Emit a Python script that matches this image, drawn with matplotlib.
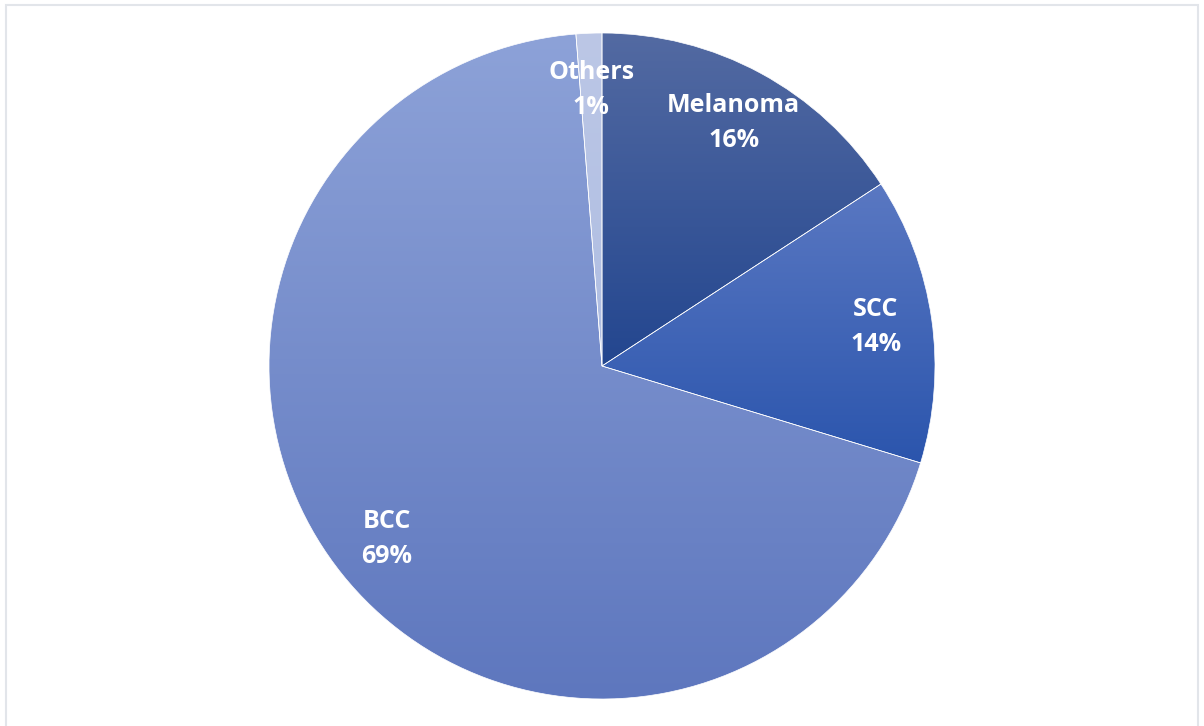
import numpy as np
import matplotlib
matplotlib.use("Agg")
import matplotlib.pyplot as plt
from matplotlib.colors import LinearSegmentedColormap
from matplotlib.patches import Rectangle

labels = ["Melanoma", "SCC", "BCC", "Others"]
shares = [15.8, 13.9, 69.05, 1.25]
top_colors = ["#536aa2", "#5a78c2", "#8da2d8", "#bcc7e6"]
bottom_colors = ["#23468f", "#2b55ad", "#5e77be", "#aebde2"]

W, H = 1204, 726
fig = plt.figure(figsize=(W / 100, H / 100), dpi=100)
ax = fig.add_axes([0, 0, 1, 1])
ax.set_axis_off()

center = (602, 360)
radius = 333
wedges, texts = ax.pie(
    shares,
    labels=[f"{name}\n{share:.0f}%" for name, share in zip(labels, shares)],
    startangle=90,
    counterclock=False,
    center=center,
    radius=radius,
    labeldistance=0.83,
    wedgeprops=dict(edgecolor="white", linewidth=0.5),
    textprops=dict(color="white", fontsize=18, fontweight="bold", family="Open Sans"),
)

for w, top, bottom in zip(wedges, top_colors, bottom_colors):
    ang = np.radians(np.linspace(w.theta1, w.theta2, 200))
    xs = np.concatenate([[center[0]], center[0] + radius * np.cos(ang)])
    ys = np.concatenate([[center[1]], center[1] + radius * np.sin(ang)])
    cmap = LinearSegmentedColormap.from_list("g", [bottom, top])
    grad = np.linspace(0, 1, 256).reshape(-1, 1)
    im = ax.imshow(grad, cmap=cmap, origin="lower", aspect="auto",
                   extent=[xs.min(), xs.max(), ys.min(), ys.max()], zorder=0)
    im.set_clip_path(w)
    w.set_facecolor("none")

for t in texts:
    t.set_ha("center")
    t.set_va("center")
    t.set_linespacing(1.55)

ax.set_xlim(0, W)
ax.set_ylim(0, H)
ax.set_aspect("equal")

fig.patches.append(Rectangle((5.5 / W, -0.05), 1192.5 / W, (H - 5.5) / H + 0.05,
                             transform=fig.transFigure, fill=False,
                             edgecolor="#e2e5ea", linewidth=1.5))

fig.savefig("out.png", dpi=100)
